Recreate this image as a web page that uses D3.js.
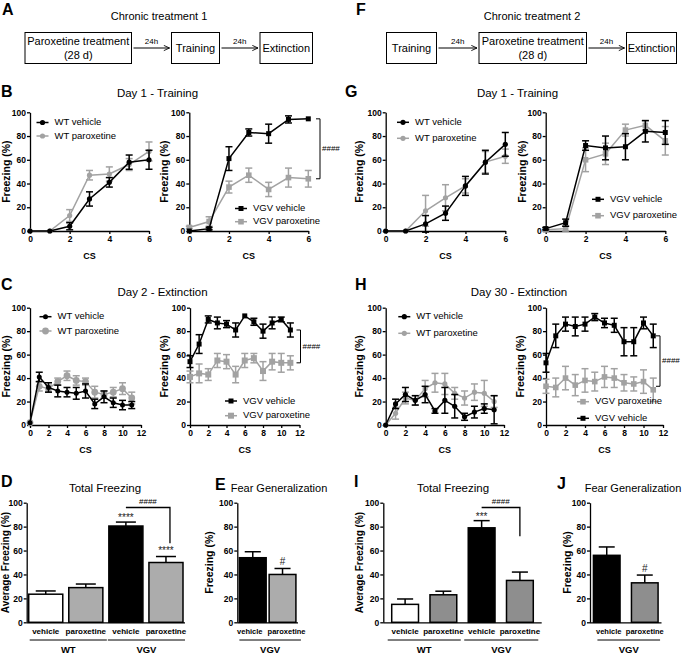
<!DOCTYPE html>
<html><head><meta charset="utf-8">
<script src="https://cdn.jsdelivr.net/npm/d3@7"></script>
<style>body{margin:0;background:#fff}</style>
</head><body>
<script>
// ---------------- DATA ----------------
const csTrain = [0,1,2,3,4,5,6];
const csExt = [0,1,2,3,4,5,6,7,8,9,10,11];
const trainTicks = [0,2,4,6];
const extTicks = [0,2,4,6,8,10,12];
const freezeTicks = [0,20,40,60,80,100];

const flow1Steps = [["Paroxetine treatment","(28 d)"],["Training"],["Extinction"]];
const flow2Steps = [["Training"],["Paroxetine treatment","(28 d)"],["Extinction"]];
const flowDelay = "24h";

// B: chronic treatment 1, Day 1 training
const bWtVeh = [0,0,4,27,41,58,60];
const bWtVehErr = [0,0,3,6,4,6,8];
const bWtPar = [0,0,13,47,48,56,67];
const bWtParErr = [0,0,5,4,6,5,8];
const bVgvVeh = [0,2,61,83,82,94,94.5];
const bVgvVehErr = [0,1,10,3,8,3,0];
const bVgvPar = [3,8,37,47,35,45,44];
const bVgvParErr = [1,4,5,6,6,8,7];

// C: chronic treatment 1, Day 2 extinction
const cWtVeh = [2,41,32,29,28,27,29,18,24,19,17,17];
const cWtVehErr = [0,4,4,5,4,5,6,4,5,4,4,3];
const cWtPar = [2,33,31,37,42,38,37,28,26,28,31,23];
const cWtParErr = [0,4,3,3,4,4,3,5,3,4,5,5];
const cVgvVeh = [54,69,90,87,86,81,93,88,80,87,90,81];
const cVgvVehErr = [5,8,3,5,3,6,0,3,6,5,2,6];
const cVgvPar = [41,44,43,55,54,43,55,57,46,54,53,53];
const cVgvParErr = [5,8,5,6,6,7,6,4,8,7,8,6];

// G: chronic treatment 2, Day 1 training
const gWtVeh = [0,0,6,15,38,58,73];
const gWtVehErr = [0,0,7,6,8,10,10];
const gWtPar = [0,0,17,28,38,58,63];
const gWtParErr = [0,0,13,11,6,9,6];
const gVgvVeh = [2,7,72,70,71,84,83];
const gVgvVehErr = [1,3,4,10,11,9,10];
const gVgvPar = [1,2,60,65,85,89,76];
const gVgvParErr = [1,2,10,9,5,4,12];

// H: chronic treatment 2, Day 30 extinction
const hWtVeh = [0,18,26,21,26,12,21,16,7,11,14,13];
const hWtVehErr = [0,4,6,4,7,2,11,10,3,5,4,12];
const hWtPar = [0,10,23,21,31,36,35,27,23,28,27,20];
const hWtParErr = [0,5,5,4,7,8,9,5,6,7,11,5];
const hVgvVeh = [53,76,86,84,86,92,87,85,71,71,87,76];
const hVgvVehErr = [8,10,6,8,6,3,4,6,12,12,5,10];
const hVgvPar = [33,32,40,34,38,37,41,40,36,35,37,30];
const hVgvParErr = [6,8,10,9,10,8,9,8,7,6,10,10];

// Bars
const barGroups = ["WT vehicle","WT paroxetine","VGV vehicle","VGV paroxetine"];
const barTickLabels = ["vehicle","paroxetine","vehicle","paroxetine"];
const genGroups = ["VGV vehicle","VGV paroxetine"];
const genTickLabels = ["vehicle","paroxetine"];
const dTotal = [23.5,29,80.5,50];
const dTotalErr = [2.7,3,3.3,5];
const eGen = [54,40];
const eGenErr = [5,5];
const iTotal = [15,23,79,35];
const iTotalErr = [4.5,3,6,7];
const jGen = [56,33];
const jGenErr = [7,6.5];

// ---------------- DRAWING ----------------
const FONT = "'Liberation Sans', Arial, Helvetica, sans-serif";
const BLACK = "#000";
const GREY = "#a2a2a2";
const svg = d3.select("body").append("svg").attr("width",685).attr("height",654)
  .style("font-family",FONT);

function txt(x,y,s,o={}) {
  return svg.append("text").attr("x",x).attr("y",y).text(s)
    .attr("font-size",o.size||11).attr("font-weight",o.weight||"normal")
    .attr("text-anchor",o.anchor||"middle").attr("fill",o.fill||"#000");
}

// panel letters
[["A",2,15],["F",356,15],["B",1,97],["G",345,97],["C",1,290],["H",355,290],
 ["D",1,487],["E",215,490],["I",354,487],["J",557,489]].forEach(d=>
  txt(d[1],d[2],d[0],{size:16,weight:"bold",anchor:"start"}));

// flow diagrams
svg.append("defs").append("marker").attr("id","arr").attr("viewBox","0 0 8 8")
  .attr("refX",7.5).attr("refY",4).attr("markerWidth",7).attr("markerHeight",7)
  .attr("markerUnits","userSpaceOnUse").attr("orient","auto")
  .append("path").attr("d","M1,1 L7.5,4 L1,7").attr("fill","none").attr("stroke","#000").attr("stroke-width",1);

function flow(title, cx, steps, boxes) {
  txt(cx,20,title,{size:11});
  const y1=32.5, y2=63.5, ym=(y1+y2)/2;
  steps.forEach((lines,i)=>{
    const b=boxes[i];
    svg.append("rect").attr("x",b[0]).attr("y",y1).attr("width",b[1]-b[0]).attr("height",y2-y1)
      .attr("fill","none").attr("stroke","#000").attr("stroke-width",1);
    const cxb=(b[0]+b[1])/2;
    if(lines.length===1) txt(cxb,ym+4,lines[0],{size:11});
    else { txt(cxb,ym-3,lines[0],{size:11}); txt(cxb,ym+11,lines[1],{size:11}); }
    if(i<steps.length-1){
      const nx=boxes[i+1][0];
      svg.append("line").attr("x1",b[1]+2).attr("x2",nx-2).attr("y1",ym).attr("y2",ym)
        .attr("stroke","#000").attr("stroke-width",1).attr("marker-end","url(#arr)");
      txt((b[1]+nx)/2,ym-4,flowDelay,{size:8});
    }
  });
}
flow("Chronic treatment 1",159,flow1Steps,[[25,131.5],[171.5,219.5],[260,312.5]]);
flow("Chronic treatment 2",532,flow2Steps,[[386.5,436.5],[479,586.5],[626.5,676.5]]);

// titles
txt(157.5,97,"Day 1 - Training",{size:11.5});
txt(517.5,97,"Day 1 - Training",{size:11.5});
txt(162.5,296,"Day 2 - Extinction",{size:11.5});
txt(519,296,"Day 30 - Extinction",{size:11.5});
txt(105,492,"Total Freezing",{size:11.5});
txt(279,492,"Fear Generalization",{size:11});
txt(453,492,"Total Freezing",{size:11.5});
txt(633,492,"Fear Generalization",{size:11});

const intFmt = d3.format("d");
function styleAxis(a, size){
  a.select(".domain").attr("stroke-width",1.3);
  a.selectAll(".tick line").attr("stroke-width",1.3);
  a.selectAll("text").attr("font-size",size||8.5).attr("font-weight","bold").attr("font-family",FONT);
}

function marker(g, shape, color, cx, cy, size){
  if(shape==="circle") g.append("circle").attr("cx",cx).attr("cy",cy).attr("r",size).attr("fill",color);
  else g.append("rect").attr("x",cx-size).attr("y",cy-size).attr("width",2*size).attr("height",2*size).attr("fill",color);
}

function lineChart(o){
  const g = svg.append("g");
  const x = d3.scaleLinear().domain([0,o.xmax]).range([o.left,o.right]);
  const y = d3.scaleLinear().domain([0,100]).range([o.bottom,o.top]);
  const ya = g.append("g").attr("transform",`translate(${o.left},0)`)
    .call(d3.axisLeft(y).tickValues(freezeTicks).tickFormat(intFmt).tickSize(3).tickSizeOuter(0).tickPadding(1));
  const xa = g.append("g").attr("transform",`translate(0,${o.bottom})`)
    .call(d3.axisBottom(x).tickValues(o.ticks).tickFormat(intFmt).tickSize(3).tickSizeOuter(0).tickPadding(2));
  styleAxis(ya); styleAxis(xa);
  g.append("text").attr("transform",`translate(${o.ylabX},${(o.top+o.bottom)/2}) rotate(-90)`)
    .attr("text-anchor","middle").attr("dominant-baseline","middle")
    .attr("font-size",10.5).attr("font-weight","bold").text("Freezing (%)");
  g.append("text").attr("x",(o.left+o.right)/2).attr("y",o.csY).attr("text-anchor","middle")
    .attr("font-size",9).attr("font-weight","bold").text("CS");
  o.series.forEach(s=>{
    const pts = o.cs.map((c,i)=>({c, v:s.v[i], e:s.e[i]}));
    g.append("path").datum(pts).attr("d",d3.line().x(d=>x(d.c)).y(d=>y(d.v)))
      .attr("fill","none").attr("stroke",s.color).attr("stroke-width",1.5);
    const eg = g.append("g").attr("stroke",s.color).attr("stroke-width",1.5);
    pts.filter(d=>d.e>0).forEach(d=>{
      const cx=x(d.c), t=y(d.v+d.e), b=y(d.v-d.e);
      eg.append("line").attr("x1",cx).attr("x2",cx).attr("y1",t).attr("y2",b);
      eg.append("line").attr("x1",cx-3.5).attr("x2",cx+3.5).attr("y1",t).attr("y2",t);
      eg.append("line").attr("x1",cx-3.5).attr("x2",cx+3.5).attr("y1",b).attr("y2",b);
    });
    pts.forEach(d=>marker(g,s.shape,s.color,x(d.c),y(d.v),s.size));
  });
  o.legend.forEach(L=>{
    const s=o.series[L.idx];
    const ly=L.y;
    g.append("line").attr("x1",o.legX).attr("x2",o.legX+12).attr("y1",ly).attr("y2",ly)
      .attr("stroke",s.color).attr("stroke-width",1.5);
    marker(g,s.shape,s.color,o.legX+6,ly,s.size);
    g.append("text").attr("x",o.legX+18).attr("y",ly).attr("dominant-baseline","middle")
      .attr("font-size",9.5).text(s.name);
  });
  if(o.bracket){
    const k=o.bracket, bx=k.x, t=y(k.hi), b=y(k.lo);
    g.append("path").attr("d",`M${bx-4},${t}H${bx}V${b}H${bx-4}`).attr("fill","none")
      .attr("stroke","#000").attr("stroke-width",1);
    g.append("text").attr("x",bx+2).attr("y",(t+b)/2).attr("dominant-baseline","middle")
      .attr("font-size",8).attr("fill","#000").text("####");
  }
}

const wtS = (name,v,e,color,size)=>({name,v,e,color,shape:"circle",size});
const vgS = (name,v,e,color,size)=>({name,v,e,color,shape:"square",size});

// B
lineChart({left:30,right:149,top:112.3,bottom:231,xmax:6,ticks:trainTicks,cs:csTrain,ylabX:7,csY:258.5,
  series:[wtS("WT paroxetine",bWtPar,bWtParErr,GREY,2.6),wtS("WT vehicle",bWtVeh,bWtVehErr,BLACK,2.6)],
  legX:36.5,legend:[{idx:1,y:122.5},{idx:0,y:136}]});
lineChart({left:189.3,right:308.3,top:112.3,bottom:231,xmax:6,ticks:trainTicks,cs:csTrain,ylabX:165,csY:258.5,
  series:[vgS("VGV paroxetine",bVgvPar,bVgvParErr,GREY,2.8),vgS("VGV vehicle",bVgvVeh,bVgvVehErr,BLACK,2.5)],
  legX:235,legend:[{idx:1,y:208.5},{idx:0,y:221.7}],bracket:{x:320,hi:94.5,lo:44}});
// G
lineChart({left:385.7,right:505.3,top:112.3,bottom:231,xmax:6,ticks:trainTicks,cs:csTrain,ylabX:360,csY:258.5,
  series:[wtS("WT paroxetine",gWtPar,gWtParErr,GREY,2.6),wtS("WT vehicle",gWtVeh,gWtVehErr,BLACK,2.6)],
  legX:397,legend:[{idx:1,y:122.3},{idx:0,y:138.3}]});
lineChart({left:545.7,right:665.3,top:112.3,bottom:231,xmax:6,ticks:trainTicks,cs:csTrain,ylabX:523.3,csY:258.5,
  series:[vgS("VGV paroxetine",gVgvPar,gVgvParErr,GREY,2.8),vgS("VGV vehicle",gVgvVeh,gVgvVehErr,BLACK,2.5)],
  legX:592,legend:[{idx:1,y:199.3},{idx:0,y:215.7}]});
// C
lineChart({left:30,right:141,top:307.7,bottom:425,xmax:12,ticks:extTicks,cs:csExt,ylabX:7,csY:452.5,
  series:[wtS("WT paroxetine",cWtPar,cWtParErr,GREY,3.4),wtS("WT vehicle",cWtVeh,cWtVehErr,BLACK,2.5)],
  legX:39.5,legend:[{idx:1,y:316.7},{idx:0,y:331}]});
lineChart({left:190,right:299.5,top:307.7,bottom:425,xmax:12,ticks:extTicks,cs:csExt,ylabX:165,csY:452.5,
  series:[vgS("VGV paroxetine",cVgvPar,cVgvParErr,GREY,3),vgS("VGV vehicle",cVgvVeh,cVgvVehErr,BLACK,2.5)],
  legX:225,legend:[{idx:1,y:401},{idx:0,y:415.7}],bracket:{x:300.5,hi:81,lo:53}});
// H
lineChart({left:385.7,right:504,top:307.7,bottom:425,xmax:12,ticks:extTicks,cs:csExt,ylabX:360,csY:452.5,
  series:[wtS("WT paroxetine",hWtPar,hWtParErr,GREY,2.6),wtS("WT vehicle",hWtVeh,hWtVehErr,BLACK,2.6)],
  legX:398.3,legend:[{idx:1,y:316.7},{idx:0,y:333.3}]});
lineChart({left:546,right:663,top:307.7,bottom:425,xmax:12,ticks:extTicks,cs:csExt,ylabX:521.7,csY:452.5,
  series:[vgS("VGV paroxetine",hVgvPar,hVgvParErr,GREY,2.8),vgS("VGV vehicle",hVgvVeh,hVgvVehErr,BLACK,2.5)],
  legX:577,legend:[{idx:0,y:401.7},{idx:1,y:418.3}],bracket:{x:660,hi:76,lo:33}});

// bar charts
function barChart(o){
  const g = svg.append("g");
  const x = d3.scaleBand().domain(o.cats).range([o.left,o.right]).paddingInner(o.pi).paddingOuter(o.po);
  const y = d3.scaleLinear().domain([0,100]).range([622.3,502.7]);
  const bw = x.bandwidth();
  const ya = g.append("g").attr("transform",`translate(${o.left},0)`)
    .call(d3.axisLeft(y).tickValues(freezeTicks).tickFormat(intFmt).tickSize(3).tickSizeOuter(0).tickPadding(1));
  styleAxis(ya);
  g.append("text").attr("transform",`translate(${o.ylabX},562.5) rotate(-90)`)
    .attr("text-anchor","middle").attr("dominant-baseline","middle")
    .attr("font-size",o.ylabSize).attr("font-weight","bold").text(o.ylab);
  o.cats.forEach((c,i)=>{
    const bx=x(c), v=o.vals[i], e=o.errs[i], cx=bx+bw/2;
    const capW=Math.min(bw*0.6,20);
    g.append("line").attr("x1",cx).attr("x2",cx).attr("y1",y(v)).attr("y2",y(v+e)).attr("stroke","#000").attr("stroke-width",1.5);
    g.append("line").attr("x1",cx-capW/2).attr("x2",cx+capW/2).attr("y1",y(v+e)).attr("y2",y(v+e)).attr("stroke","#000").attr("stroke-width",1.5);
    g.append("rect").attr("x",bx).attr("y",y(v)).attr("width",bw).attr("height",y(0)-y(v))
      .attr("fill",o.fills[i]).attr("stroke","#000").attr("stroke-width",1.5);
    if(o.marks[i]) g.append("text").attr("x",cx).attr("y",y(v+e)-o.markOff[i]).attr("text-anchor","middle")
      .attr("font-size",10).attr("fill","#222").text(o.marks[i]);
  });
  const xa = g.append("g").attr("transform",`translate(0,622.3)`)
    .call(d3.axisBottom(x).tickSize(0).tickSizeOuter(0).tickPadding(6.5).tickFormat((d,i)=>o.tickLabels[i]));
  xa.select(".domain").attr("d",`M${o.left},0.5H${o.right}`);
  styleAxis(xa,o.labSize||8);
  if(o.labDx) xa.selectAll(".tick text").attr("dx",(d,i)=>o.labDx[i]);
  o.groups.forEach(gr=>{
    const a=x(o.cats[gr.from])-gr.padL, b=x(o.cats[gr.to])+bw+gr.padR;
    g.append("line").attr("x1",a).attr("x2",b).attr("y1",640).attr("y2",640).attr("stroke","#000").attr("stroke-width",1);
    g.append("text").attr("x",(a+b)/2).attr("y",653).attr("text-anchor","middle")
      .attr("font-size",9.5).attr("font-weight","bold").text(gr.name);
  });
  if(o.bracket){
    const a=x(o.cats[2])+bw/2, b=x(o.cats[3])+bw/2+o.bracket.dx, t=y(o.bracket.hi), bt=y(o.bracket.lo);
    g.append("path").attr("d",`M${a},${t}H${b}V${bt}`).attr("fill","none").attr("stroke","#000").attr("stroke-width",1.3);
    g.append("text").attr("x",(a+b)/2).attr("y",t-3).attr("text-anchor","middle").attr("font-size",8)
      .attr("fill","#000").text("####");
  }
}

barChart({cats:barGroups,tickLabels:barTickLabels,vals:dTotal,errs:dTotalErr,left:26.7,right:185,pi:0.15,po:0.05,
  fills:["#fff","#acacac","#000","#acacac"],marks:[null,null,"****","****"],markOff:[0,0,1,3],
  ylab:"Average Freezing (%)",ylabSize:10,ylabX:6.5,
  groups:[{name:"WT",from:0,to:1,padL:-1,padR:4},{name:"VGV",from:2,to:3,padL:1,padR:2}],
  bracket:{hi:96,lo:66,dx:4}});
barChart({cats:genGroups,tickLabels:genTickLabels,vals:eGen,errs:eGenErr,left:237.3,right:298,pi:0.1,po:0.07,
  fills:["#000","#acacac"],marks:[null,"#"],markOff:[0,3],labSize:7.5,labDx:[-3,4],
  ylab:"Freezing (%)",ylabSize:10.5,ylabX:210.7,
  groups:[{name:"VGV",from:0,to:1,padL:0,padR:5}]});
barChart({cats:barGroups,tickLabels:barTickLabels,vals:iTotal,errs:iTotalErr,left:383.3,right:541.7,pi:0.3,po:0.22,
  fills:["#fff","#8e8e8e","#000","#8e8e8e"],marks:[null,null,"***",null],markOff:[0,0,1,0],
  ylab:"Average Freezing (%)",ylabSize:10,ylabX:360.5,
  groups:[{name:"WT",from:0,to:1,padL:4,padR:4},{name:"VGV",from:2,to:3,padL:4,padR:5}],
  bracket:{hi:96,lo:72,dx:0}});
barChart({cats:genGroups,tickLabels:genTickLabels,vals:jGen,errs:jGenErr,left:590,right:661.5,pi:0.3,po:0.09,
  fills:["#000","#8e8e8e"],marks:[null,"#"],markOff:[0,3],labSize:7.5,labDx:[2,0],
  ylab:"Freezing (%)",ylabSize:10.5,ylabX:568.3,
  groups:[{name:"VGV",from:0,to:1,padL:-4,padR:2}]});
</script></body></html>
